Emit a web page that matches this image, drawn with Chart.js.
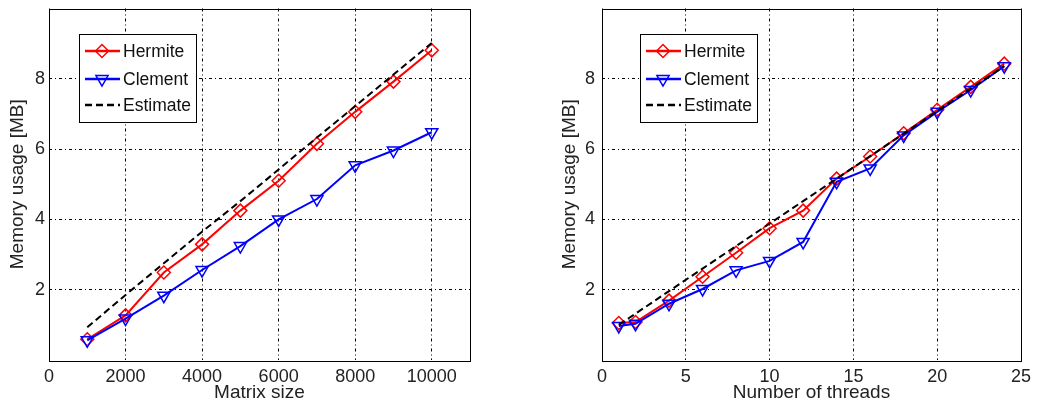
<!DOCTYPE html>
<html lang="en">
<head>
    <meta charset="UTF-8">
    <title>Memory usage</title>
    <script src="https://cdn.jsdelivr.net/npm/chart.js"></script>
    <style>
        html, body { margin: 0; padding: 0; background: #fff; }
        .panel { position: absolute; top: 0; height: 409px; }
        #leftBox { left: 0; width: 520px; }
        #rightBox { left: 520px; width: 517px; }
    </style>
</head>
<body>
    <div class="panel" id="leftBox"><canvas id="sizeChart"></canvas></div>
    <div class="panel" id="rightBox"><canvas id="threadChart"></canvas></div>

    <script>
        // Left panel: memory vs matrix size
        const sizeX = [1000, 2000, 3000, 4000, 5000, 6000, 7000, 8000, 9000, 10000];
        const hermiteBySize = [0.59, 1.27, 2.49, 3.29, 4.25, 5.10, 6.15, 7.06, 7.92, 8.81];
        const clementBySize = [0.56, 1.18, 1.83, 2.56, 3.24, 4.00, 4.58, 5.54, 5.96, 6.48];
        const estimateBySize = [0.93, 1.85, 2.75, 3.65, 4.52, 5.42, 6.33, 7.22, 8.12, 9.02];
        const sizeTicks = [0, 2000, 4000, 6000, 8000, 10000];

        // Right panel: memory vs number of threads
        const threadsX = [1, 2, 4, 6, 8, 10, 12, 14, 16, 18, 20, 22, 24];
        const hermiteByThreads = [1.05, 1.08, 1.69, 2.37, 3.05, 3.75, 4.25, 5.16, 5.79, 6.45, 7.12, 7.77, 8.43];
        const clementByThreads = [0.97, 1.03, 1.60, 2.02, 2.55, 2.82, 3.36, 5.07, 5.45, 6.39, 7.06, 7.68, 8.36];
        const estimateByThreads = [1.00, 1.32, 1.96, 2.60, 3.24, 3.88, 4.52, 5.16, 5.80, 6.44, 7.08, 7.72, 8.36];
        const threadTicks = [0, 5, 10, 15, 20, 25];

        const memoryTicks = [2, 4, 6, 8];

        Chart.defaults.font.family = "'Liberation Sans', Arial, sans-serif";
        Chart.defaults.color = '#222';

        function toPoints(xs, ys) {
            return xs.map((x, i) => ({ x: x, y: ys[i] }));
        }

        function makeDatasets(xs, hermite, clement, estimate) {
            return [{
                label: 'Hermite',
                data: toPoints(xs, hermite),
                borderColor: '#ff0000',
                borderWidth: 2,
                pointStyle: 'rectRot',
                pointRadius: 6.5,
                pointBorderWidth: 1.5,
                pointBackgroundColor: 'rgba(0,0,0,0)',
                order: 2
            }, {
                label: 'Clement',
                data: toPoints(xs, clement),
                borderColor: '#0000ff',
                borderWidth: 2,
                pointStyle: 'triangle',
                pointRotation: 180,
                pointRadius: 7,
                pointBorderWidth: 1.5,
                pointBackgroundColor: 'rgba(0,0,0,0)',
                order: 1
            }, {
                label: 'Estimate',
                data: toPoints(xs, estimate),
                borderColor: '#000000',
                borderWidth: 2,
                borderDash: [7, 4],
                pointRadius: 0,
                order: 0
            }];
        }

        // axes box + legend drawn inside the plot area
        const boxPlugin = {
            id: 'boxLegend',
            afterDatasetsDraw(chart, args, opts) {
                const { ctx, chartArea: a } = chart;
                ctx.save();
                ctx.setLineDash([]);
                ctx.strokeStyle = '#000';
                ctx.lineWidth = 1;
                ctx.strokeRect(Math.round(a.left) + 0.5, Math.round(a.top) + 0.5,
                    Math.round(a.right - a.left), Math.round(a.bottom - a.top));

                const bx = Math.round(a.left + opts.dx), by = Math.round(a.top + opts.dy);
                ctx.fillStyle = '#fff';
                ctx.fillRect(bx, by, opts.w, opts.h);
                ctx.strokeRect(bx + 0.5, by + 0.5, opts.w, opts.h);

                const rows = [17, 45, 71];
                ctx.font = "17.5px 'Liberation Sans', Arial, sans-serif";
                ctx.textBaseline = 'middle';
                chart.data.datasets.forEach((ds, i) => {
                    const y = by + rows[i];
                    ctx.strokeStyle = ds.borderColor;
                    ctx.lineWidth = 2.5;
                    ctx.setLineDash(ds.borderDash || []);
                    ctx.beginPath();
                    ctx.moveTo(bx + 6, y);
                    ctx.lineTo(bx + 41, y);
                    ctx.stroke();
                    ctx.setLineDash([]);
                    if (ds.pointRadius > 0) {
                        ctx.lineWidth = ds.pointBorderWidth;
                        ctx.fillStyle = 'rgba(0,0,0,0)';
                        Chart.helpers.drawPoint(ctx, {
                            pointStyle: ds.pointStyle,
                            radius: ds.pointRadius,
                            rotation: ds.pointRotation || 0,
                            borderWidth: ds.pointBorderWidth
                        }, bx + 23, y);
                    }
                    ctx.fillStyle = '#111';
                    ctx.fillText(ds.label, bx + 44, y + 1);
                });
                ctx.restore();
            }
        };

        function makeChart(id, cfg) {
            const ctx = document.getElementById(id).getContext('2d');
            return new Chart(ctx, {
                type: 'line',
                data: { datasets: makeDatasets(cfg.xs, cfg.hermite, cfg.clement, cfg.estimate) },
                plugins: [boxPlugin],
                options: {
                    responsive: true,
                    maintainAspectRatio: false,
                    animation: false,
                    layout: { padding: { top: 5, right: cfg.padRight, left: 0, bottom: 0 } },
                    plugins: {
                        legend: { display: false },
                        tooltip: { enabled: false },
                        boxLegend: cfg.legend
                    },
                    scales: {
                        x: {
                            type: 'linear',
                            min: cfg.xMin,
                            max: cfg.xMax,
                            afterBuildTicks: (s) => { s.ticks = cfg.xTicks.map(v => ({ value: v })); },
                            afterFit: (s) => { s.height = 49; s.paddingLeft = 0; s.paddingRight = 0; },
                            grid: { color: '#000', lineWidth: 1, drawTicks: false },
                            border: { display: false, dash: [3, 3, 1, 3] },
                            ticks: {
                                padding: 6,
                                maxRotation: 0,
                                font: { size: 18 },
                                callback: (v) => String(v)
                            },
                            title: {
                                display: true,
                                text: cfg.xTitle,
                                font: { size: 19 },
                                padding: { top: 0, bottom: 5 }
                            }
                        },
                        y: {
                            min: 0,
                            max: 10,
                            afterBuildTicks: (s) => { s.ticks = memoryTicks.map(v => ({ value: v })); },
                            afterFit: (s) => { s.width = cfg.yWidth; s.paddingTop = 0; s.paddingBottom = 0; },
                            grid: { color: '#000', lineWidth: 1, drawTicks: false },
                            border: { display: false, dash: [3, 3, 1, 3] },
                            ticks: { padding: cfg.yTickPad, font: { size: 18 } },
                            title: {
                                display: true,
                                text: 'Memory usage [MB]',
                                font: { size: 19 },
                                padding: { top: cfg.yTitlePad, bottom: 0 }
                            }
                        }
                    }
                }
            });
        }

        makeChart('sizeChart', {
            xs: sizeX, hermite: hermiteBySize, clement: clementBySize, estimate: estimateBySize,
            xMin: 0, xMax: 11000, xTicks: sizeTicks, xTitle: 'Matrix size',
            yWidth: 49, yTickPad: 4, yTitlePad: 6, padRight: 50,
            legend: { dx: 30, dy: 25, w: 117, h: 88 }
        });

        makeChart('threadChart', {
            xs: threadsX, hermite: hermiteByThreads, clement: clementByThreads, estimate: estimateByThreads,
            xMin: 0, xMax: 25, xTicks: threadTicks, xTitle: 'Number of threads',
            yWidth: 82, yTickPad: 7, yTitlePad: 38, padRight: 16,
            legend: { dx: 38, dy: 25, w: 117, h: 88 }
        });
    </script>
</body>
</html>
